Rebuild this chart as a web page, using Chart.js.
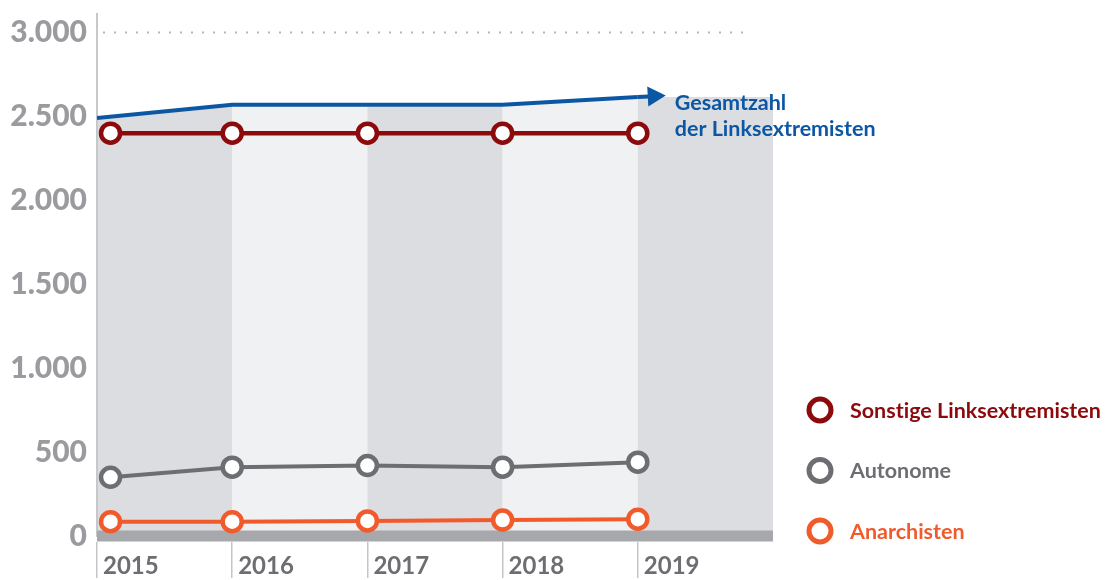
<!DOCTYPE html>
<html>
<head>
<meta charset="utf-8">
<script src="https://cdn.jsdelivr.net/npm/chart.js@4.4.0/dist/chart.umd.min.js"></script>
<style>
  html, body { margin: 0; padding: 0; background: #fff; }
  #wrap { width: 1115px; height: 580px; }
</style>
</head>
<body>
<div id="wrap"><canvas id="chart" width="1115" height="580"></canvas></div>
<script>
// ── Data ───────────────────────────────────────────────────────
const years       = [2015, 2016, 2017, 2018, 2019];
const gesamt      = [2490, 2570, 2570, 2570, 2615];
const sonstige    = [2400, 2400, 2400, 2400, 2400];
const autonome    = [350, 410, 420, 410, 440];
const anarchisten = [85, 85, 90, 95, 100];
const yTicks      = [0, 500, 1000, 1500, 2000, 2500, 3000];
const seriesNames = ['Sonstige Linksextremisten', 'Autonome', 'Anarchisten'];
const totalLabel  = ['Gesamtzahl', 'der Linksextremisten'];

// ── Style ──────────────────────────────────────────────────────
const BLUE   = '#0b57a4';
const RED    = '#8c0a0c';
const GREY   = '#6d6e71';
const ORANGE = '#f15a2b';
const BAND_DARK  = '#dcdde0';
const BAND_LIGHT = '#f0f1f3';
const FONT = 'Lato, "Open Sans", sans-serif';

const fmt = v => String(v).replace(/\B(?=(\d{3})+(?!\d))/g, '.');

// first marker sits a little inside the axis, as in the print version
const pts = vals => vals.map((v, i) => ({ x: i === 0 ? years[0] + 0.1 : years[i], y: v }));

const lineSet = (label, vals, color, width) => ({
  label,
  data: pts(vals),
  borderColor: color,
  borderWidth: width,
  pointRadius: 9.5,
  pointBorderWidth: 4.5,
  pointBackgroundColor: '#fff',
  pointBorderColor: color,
  tension: 0,
});

// ── Plugin: bands under the total line, baseline, dotted top line ──
const backdrop = {
  id: 'backdrop',
  beforeDraw(chart) {
    const { ctx, chartArea: a, scales: { x, y } } = chart;
    const y0 = y.getPixelForValue(0);
    const line = gesamt.map((v, i) => [x.getPixelForValue(years[i]), y.getPixelForValue(v)]);

    ctx.save();
    ctx.beginPath();
    ctx.moveTo(a.left, y0);
    line.forEach(([px, py]) => ctx.lineTo(px, py));
    ctx.lineTo(a.right, line[line.length - 1][1]);
    ctx.lineTo(a.right, y0);
    ctx.closePath();
    ctx.clip();
    years.forEach((yr, i) => {
      const l = x.getPixelForValue(yr);
      const r = x.getPixelForValue(yr + 1);
      ctx.fillStyle = i % 2 === 0 ? BAND_DARK : BAND_LIGHT;
      ctx.fillRect(l, a.top, r - l, y0 - a.top);
    });
    ctx.restore();

    // dotted line at the top tick
    const yTop = y.getPixelForValue(yTicks[yTicks.length - 1]);
    ctx.save();
    ctx.strokeStyle = '#b8b8bb';
    ctx.lineWidth = 2;
    ctx.setLineDash([2, 9]);
    ctx.beginPath();
    ctx.moveTo(a.left + 6, yTop);
    ctx.lineTo(a.right - 26, yTop);
    ctx.stroke();
    ctx.restore();
  },
  beforeDatasetsDraw(chart) {
    const { ctx, chartArea: a, scales: { y } } = chart;
    const y0 = y.getPixelForValue(0);
    ctx.save();
    ctx.fillStyle = '#a7a8ab';
    ctx.fillRect(a.left, y0 - 5.5, a.right - a.left, 11);
    ctx.restore();
  },
  afterDatasetsDraw(chart) {
    const { ctx, chartArea: a, scales: { x, y } } = chart;
    const n = years.length;
    const p1 = [x.getPixelForValue(years[n - 2]), y.getPixelForValue(gesamt[n - 2])];
    const p2 = [x.getPixelForValue(years[n - 1]), y.getPixelForValue(gesamt[n - 1])];
    const dx = p2[0] - p1[0], dy = p2[1] - p1[1];
    const len = Math.hypot(dx, dy);
    const ux = dx / len, uy = dy / len;
    const tip = [p2[0] + ux * 28, p2[1] + uy * 28];
    const base = [tip[0] - ux * 18, tip[1] - uy * 18];

    ctx.save();
    ctx.strokeStyle = BLUE;
    ctx.fillStyle = BLUE;
    ctx.lineWidth = 4;
    ctx.beginPath();
    ctx.moveTo(p2[0], p2[1]);
    ctx.lineTo(base[0] + ux, base[1] + uy);
    ctx.stroke();
    ctx.beginPath();
    ctx.moveTo(tip[0], tip[1]);
    ctx.lineTo(base[0] - uy * 10, base[1] + ux * 10);
    ctx.lineTo(base[0] + uy * 10, base[1] - ux * 10);
    ctx.closePath();
    ctx.fill();

    // label of the total line
    ctx.textRendering = 'optimizeSpeed';
    ctx.font = `bold 21.5px ${FONT}`;
    ctx.textAlign = 'left';
    ctx.textBaseline = 'middle';
    totalLabel.forEach((t, i) => ctx.fillText(t, tip[0] + 9, tip[1] + 8 + i * 26));

    // legend
    const colors = [RED, GREY, ORANGE];
    const yBase = y.getPixelForValue(0) - 5;
    seriesNames.forEach((name, i) => {
      const cy = yBase - (seriesNames.length - 1 - i) * 60.5;
      const cx = a.right + 47;
      ctx.beginPath();
      ctx.arc(cx, cy, 11, 0, Math.PI * 2);
      ctx.fillStyle = '#fff';
      ctx.fill();
      ctx.lineWidth = 5;
      ctx.strokeStyle = colors[i];
      ctx.stroke();
      ctx.fillStyle = colors[i];
      ctx.fillText(name, cx + 30, cy + 1);
    });
    ctx.restore();
  },
};

// ── Chart ──────────────────────────────────────────────────────
new Chart(document.getElementById('chart'), {
  type: 'line',
  data: {
    datasets: [
      {
        label: totalLabel.join(' '),
        data: gesamt.map((v, i) => ({ x: years[i], y: v })),
        borderColor: BLUE,
        borderWidth: 4,
        pointRadius: 0,
        tension: 0,
      },
      lineSet(seriesNames[0], sonstige, RED, 4.5),
      lineSet(seriesNames[1], autonome, GREY, 4),
      lineSet(seriesNames[2], anarchisten, ORANGE, 4),
    ],
  },
  options: {
    responsive: false,
    animation: false,
    layout: { padding: { top: 0, right: 342, left: 0, bottom: 0 } },
    plugins: { legend: { display: false }, tooltip: { enabled: false } },
    scales: {
      x: {
        type: 'linear',
        min: 2015,
        max: 2020,
        afterBuildTicks: s => { s.ticks = years.concat([2020]).map(v => ({ value: v })); },
        afterFit: s => { s.height = 44; s.paddingLeft = 0; s.paddingRight = 0; },
        grid: {
          drawOnChartArea: false,
          tickLength: 42,
          lineWidth: 1.5,
          color: c => (c.tick && c.tick.value === 2020) ? 'rgba(0,0,0,0)' : '#c4c5c8',
        },
        border: { display: true, width: 11, color: 'rgba(0,0,0,0)' },
        ticks: {
          align: 'start',
          labelOffset: 6,
          padding: -26,
          color: '#6d6e71',
          font: { family: FONT, size: 24, weight: 'bold' },
          callback: v => years.includes(v) ? String(v) : '',
        },
      },
      y: {
        min: 0,
        max: 3110,
        afterBuildTicks: s => { s.ticks = yTicks.map(v => ({ value: v })); },
        afterFit: s => { s.width = 97; s.paddingTop = 0; s.paddingBottom = 0; },
        grid: { display: false, drawTicks: false },
        border: { display: true, width: 2, color: '#c7c8ca' },
        ticks: {
          padding: 10,
          color: '#9b9b9f',
          font: { family: FONT, size: 30, weight: '900' },
          callback: v => fmt(v),
        },
      },
    },
  },
  plugins: [backdrop],
});
</script>
</body>
</html>
